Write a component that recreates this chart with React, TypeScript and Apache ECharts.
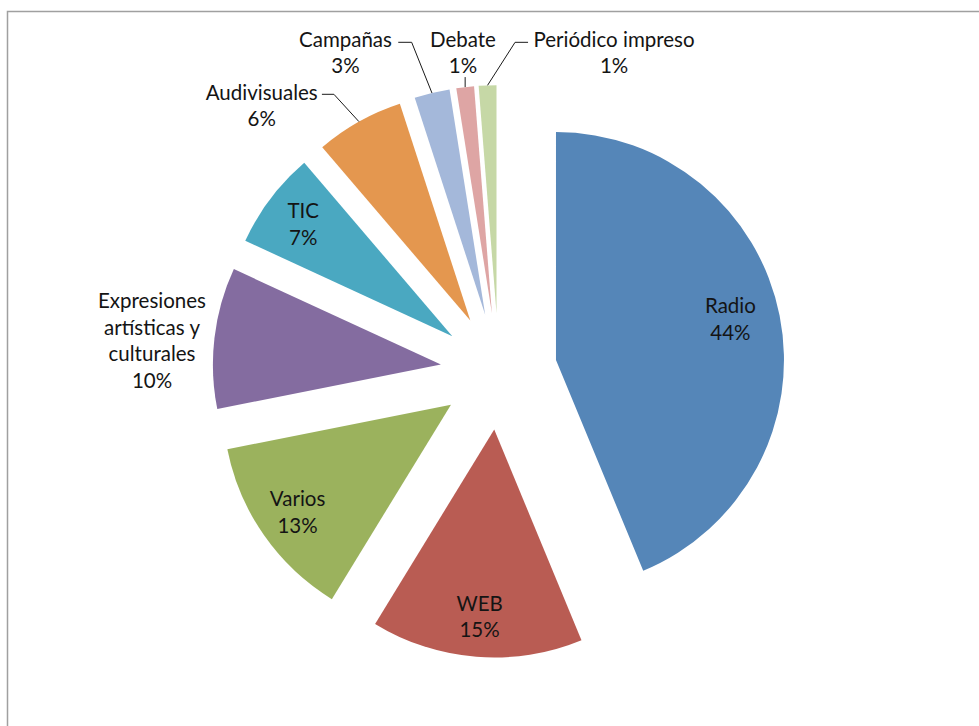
import React, { useEffect, useRef } from "react";
import * as echarts from "echarts";

// ---- data ----
const categories = [
  "Radio",
  "WEB",
  "Varios",
  "Expresiones\nartísticas y\nculturales",
  "TIC",
  "Audivisuales",
  "Campañas",
  "Debate",
  "Periódico impreso",
];
const counts = [70, 24, 21, 16, 11, 10, 4, 2, 2];
const colors = [
  "#5586b8",
  "#b95c53",
  "#9bb25d",
  "#846ca0",
  "#4aa8c1",
  "#e4974f",
  "#a4b8da",
  "#dea5a4",
  "#c6d8a6",
];
const labelInside = [true, true, true, false, true, false, false, false, false];

// ---- layout / style ----
const CX = 498.8;
const CY = 371.4;
const R = 228;
const OFFSET = 58.3;
const INSIDE_K = [0.78, 0.82, 0.82, 0.82, 0.82, 0.82, 0.82, 0.82, 0.82];
const INSIDE_DY = [-7, 0, 0, 0, 0, 0, 0, 0, 0];
const OUTSIDE: Record<number, { dx: number; dy: number; line: number[][] | null }> = {
  3: { dx: -62.5, dy: 2.2, line: null },
  5: { dx: -97.2, dy: -16.6, line: [[-25, -27.3], [-37, -27.3]] },
  6: { dx: -86.5, dy: -41, line: [[-20.3, -50.7], [-33.7, -50.7]] },
  7: { dx: -2.2, dy: -35.1, line: [[0, -10], [0, -10]] },
  8: { dx: 126.5, dy: -33.3, line: [[27.5, -43], [40.5, -43]] },
};
const FONT = "Lato";

const total = counts.reduce((a, b) => a + b, 0);

function geom(i: number) {
  let before = 0;
  for (let j = 0; j < i; j++) before += counts[j];
  const mid = ((before + counts[i] / 2) / total) * Math.PI * 2;
  const ux = Math.sin(mid);
  const uy = -Math.cos(mid);
  const ax = CX + OFFSET * ux;
  const ay = CY + OFFSET * uy;
  return { ux, uy, ax, ay };
}

export default function App() {
  const ref = useRef<HTMLDivElement>(null);
  useEffect(() => {
    document.body.style.margin = "0";
    if (!ref.current) return;
    const chart = echarts.init(ref.current, undefined, { renderer: "svg" });
    const sliceData = categories.map((name, i) => ({
      name,
      value: counts[i],
      selected: true,
      itemStyle: { color: colors[i] },
    }));
    const labelData = categories.map((name, i) => ({
      name,
      value: counts[i],
      label: { position: labelInside[i] ? "inside" : "outside" },
      labelLine: { show: !labelInside[i] && OUTSIDE[i] && OUTSIDE[i].line != null },
    }));
    chart.setOption({
      animation: false,
      backgroundColor: "#ffffff",
      graphic: [
        {
          type: "polyline",
          shape: { points: [[7.5, 726], [7.5, 11.5], [979, 11.5]] },
          style: { stroke: "#a0a0a0", lineWidth: 1.5, fill: "none" },
          silent: true,
        },
      ],
      series: [
        {
          type: "pie",
          center: [CX, CY],
          radius: [0, R],
          startAngle: 90,
          clockwise: true,
          selectedMode: "multiple",
          selectedOffset: OFFSET,
          emphasis: { disabled: true },
          itemStyle: { borderWidth: 0 },
          label: { show: false },
          labelLine: { show: false },
          data: sliceData,
        },
        {
          type: "pie",
          z: 5,
          center: [CX, CY],
          radius: [0, R],
          startAngle: 90,
          clockwise: true,
          silent: true,
          avoidLabelOverlap: false,
          emphasis: { disabled: true },
          itemStyle: { color: "rgba(0,0,0,0)", borderWidth: 0 },
          label: {
            show: true,
            fontFamily: FONT,
            fontSize: 20.5,
            lineHeight: 26.5,
            color: "#141414",
            align: "center",
            formatter: (p: any) =>
              `${p.name}\n${Math.round((counts[p.dataIndex] / total) * 100)}%`,
          },
          labelLine: {
            lineStyle: { color: "#1a1a1a", width: 1 },
            smooth: false,
          },
          labelLayout: (params: any) => {
            const i = params.dataIndex;
            const g = geom(i);
            if (labelInside[i]) {
              return {
                x: g.ax + INSIDE_K[i] * R * g.ux,
                y: g.ay + INSIDE_K[i] * R * g.uy + INSIDE_DY[i],
                align: "center",
                verticalAlign: "middle",
              };
            }
            const ex = g.ax + R * g.ux;
            const ey = g.ay + R * g.uy;
            const o = OUTSIDE[i];
            const res: any = {
              x: ex + o.dx,
              y: ey + o.dy,
              align: "center",
              verticalAlign: "middle",
            };
            if (o.line) {
              res.labelLinePoints = [
                [ex, ey],
                [ex + o.line[0][0], ey + o.line[0][1]],
                [ex + o.line[1][0], ey + o.line[1][1]],
              ];
            }
            return res;
          },
          data: labelData,
        },
      ],
    });
    return () => chart.dispose();
  }, []);
  return <div ref={ref} style={{ width: 979, height: 726 }} />;
}
